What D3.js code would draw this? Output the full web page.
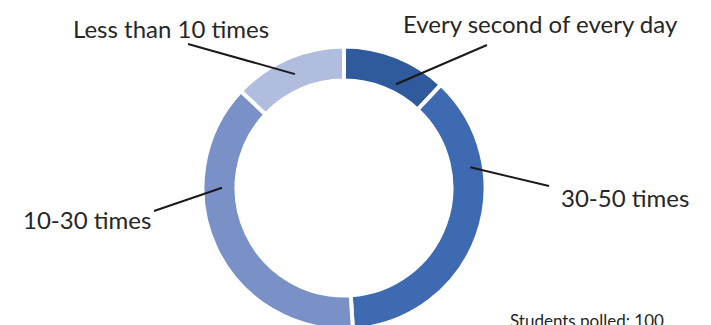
<!DOCTYPE html>
<html>
<head>
<meta charset="utf-8">
<script src="https://cdn.jsdelivr.net/npm/d3@7/dist/d3.min.js"></script>
<style>
  html, body { margin: 0; padding: 0; background: #fff; }
  svg { display: block; }
  text { font-family: Lato, "Open Sans", sans-serif; fill: #262626; }
</style>
</head>
<body>
<svg id="chart" width="711" height="325"></svg>
<script>
// ---- data ----
const categories = ["Every second of every day", "30-50 times", "10-30 times", "Less than 10 times"];
const values = [12, 37, 38, 13];
const sliceColors = ["#2F5A9B", "#3E6AB2", "#7A91C8", "#B0BDDE"];
const footnote = "Students polled: 100";

// ---- label layout (annotation positions) ----
const labelX = [403, 561, 23, 73];
const labelY = [33, 207, 229, 38];
const leaderOuterX = [487, 549, 154, 188];
const leaderOuterY = [45, 186, 211, 44];
const leaderAngleDeg = [26.6, 80.7, 270.1, 336.7];
const leaderRadius = [116, 128, 122, 124];

const W = 711, H = 325;
const cx = 344, cy = 188;
const outerR = 141.5, innerR = 107.5;

const svg = d3.select("#chart");
const g = svg.append("g").attr("transform", `translate(${cx},${cy})`);

const pie = d3.pie().sort(null).value(d => d);
const arcs = pie(values);
const arc = d3.arc().innerRadius(innerR).outerRadius(outerR);

g.selectAll("path.slice")
  .data(arcs)
  .join("path")
  .attr("class", "slice")
  .attr("d", arc)
  .attr("fill", (d, i) => sliceColors[i])
  .attr("stroke", "#fff")
  .attr("stroke-width", 4)
  .attr("stroke-linejoin", "miter");

// leader lines and labels
categories.forEach((c, i) => {
  const a = leaderAngleDeg[i] * Math.PI / 180;
  const x2 = cx + leaderRadius[i] * Math.sin(a);
  const y2 = cy - leaderRadius[i] * Math.cos(a);
  svg.append("line")
    .attr("x1", leaderOuterX[i]).attr("y1", leaderOuterY[i])
    .attr("x2", x2).attr("y2", y2)
    .attr("stroke", "#1a1a1a")
    .attr("stroke-width", 2);
  svg.append("text")
    .attr("x", labelX[i]).attr("y", labelY[i])
    .attr("font-size", 24)
    .text(c);
});

svg.append("text")
  .attr("x", 510).attr("y", 327)
  .attr("font-size", 17)
  .text(footnote);
</script>
</body>
</html>
